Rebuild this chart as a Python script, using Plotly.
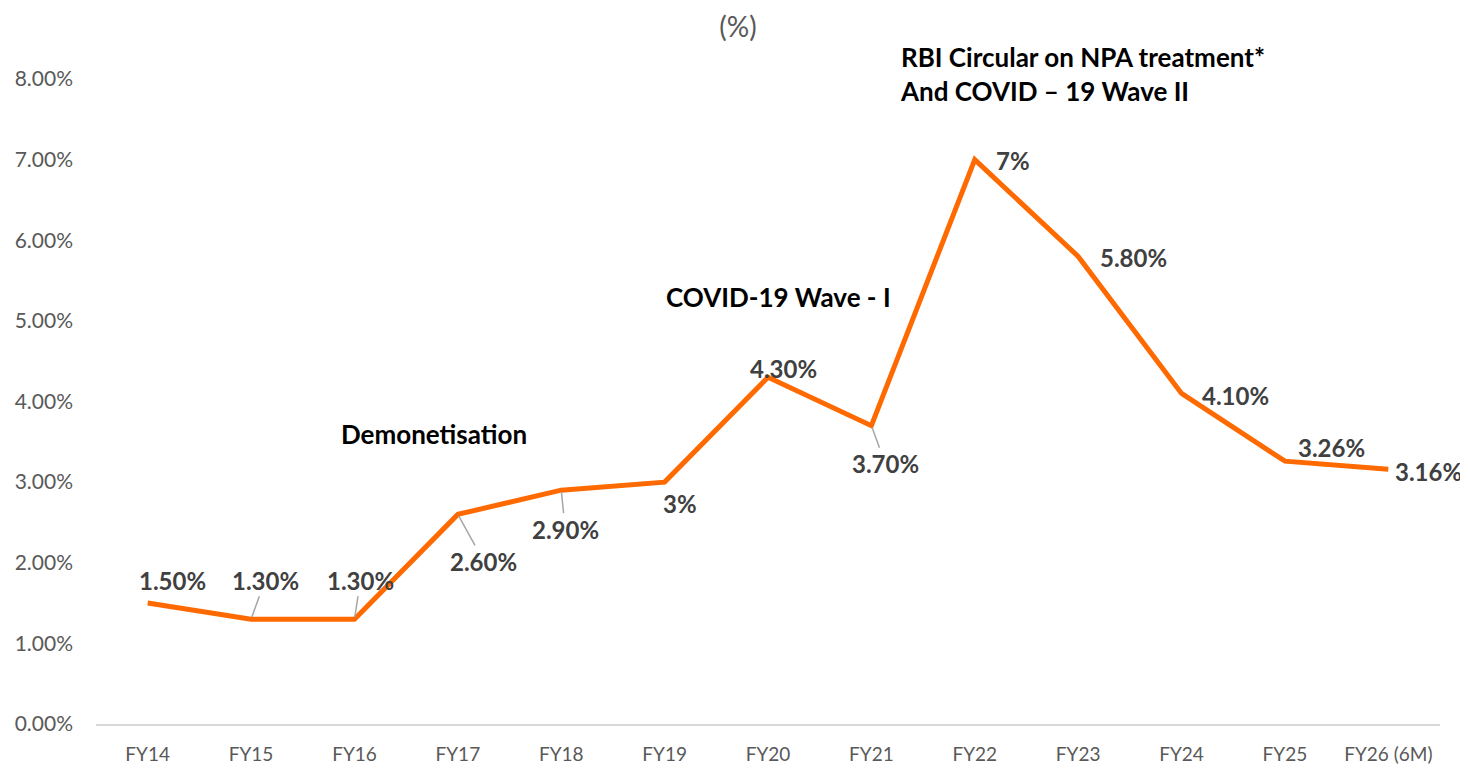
import plotly.graph_objects as go

years = ["FY14", "FY15", "FY16", "FY17", "FY18", "FY19", "FY20",
         "FY21", "FY22", "FY23", "FY24", "FY25", "FY26 (6M)"]
gnpa_pct = [1.5, 1.3, 1.3, 2.6, 2.9, 3.0, 4.3, 3.7, 7.0, 5.8, 4.1, 3.26, 3.16]
value_labels = ["1.50%", "1.30%", "1.30%", "2.60%", "2.90%", "3%", "4.30%",
                "3.70%", "7%", "5.80%", "4.10%", "3.26%", "3.16%"]
y_ticks = [0, 1, 2, 3, 4, 5, 6, 7, 8]
y_tick_text = ["0.00%", "1.00%", "2.00%", "3.00%", "4.00%", "5.00%",
               "6.00%", "7.00%", "8.00%"]

# label placement: (dx, dy) in px from the point, dy down positive; leader line or not
label_offsets = [(25, -23, False), (14, -39, True), (6, -39, True), (26, 47, True),
                 (4, 39, True), (15, 21, False), (15, -9, False), (14, 38, True),
                 (38, 1, False), (55, 1, False), (54, 2, False), (47, -14, False),
                 (40, 2, False)]

FONT = "Lato, 'Open Sans', sans-serif"
ORANGE = "#FF6A00"
LABEL_FONT = dict(family=FONT, size=24, color="#404040", weight="bold")

fig = go.Figure()
fig.add_trace(go.Scatter(
    x=years, y=gnpa_pct, mode="lines",
    line=dict(color=ORANGE, width=5),
    hoverinfo="skip", showlegend=False,
))

for cat, val, txt, (dx, dy, leader) in zip(years, gnpa_pct, value_labels, label_offsets):
    if leader:
        fig.add_annotation(
            x=cat, y=val, text=txt, showarrow=True, arrowhead=0,
            arrowwidth=1.5, arrowcolor="#a6a6a6", ax=dx, ay=dy, standoff=2,
            font=LABEL_FONT,
        )
    else:
        fig.add_annotation(
            x=cat, y=val, text=txt, showarrow=False, xshift=dx, yshift=-dy,
            font=LABEL_FONT,
        )

event_font = dict(family=FONT, size=26, color="#000000", weight="bold")
fig.add_annotation(x="FY17", y=3.6, text="Demonetisation", showarrow=False,
                   xshift=-24, font=event_font)
fig.add_annotation(x="FY20", y=5.3, text="COVID-19 Wave - I", showarrow=False,
                   xshift=10, font=event_font)
fig.add_annotation(x="FY22", y=1.0, yref="paper", text="RBI Circular on NPA treatment*<br>And COVID \u2013 19 Wave II",
                   showarrow=False, xanchor="left", yanchor="bottom", xshift=-77,
                   yshift=-30, align="left", font=event_font)

# page body adds an 8px margin, so the figure is sized to fit inside the window
fig.update_layout(
    width=1460, height=761,
    paper_bgcolor="white", plot_bgcolor="white",
    margin=dict(l=88, r=28, t=71, b=45),
    title=dict(text="(%)", x=0.5, xanchor="center", y=0.975, yanchor="middle",
               font=dict(family=FONT, size=28, color="#595959")),
    font=dict(family=FONT, size=18, color="#595959"),
)
fig.update_xaxes(
    type="category", range=[-0.5, 12.5], showgrid=False, automargin=False,
    showline=True, linecolor="#d9d9d9", linewidth=2,
    ticks="", ticklabelstandoff=12, tickfont=dict(size=19, color="#595959"),
)
fig.update_yaxes(
    range=[0, 8], tickvals=y_ticks, ticktext=y_tick_text, automargin=False,
    showgrid=False, zeroline=False, showline=False,
    ticks="", ticklabelstandoff=22,
    tickfont=dict(size=21, color="#595959"),
)

fig.write_html("out.html")
